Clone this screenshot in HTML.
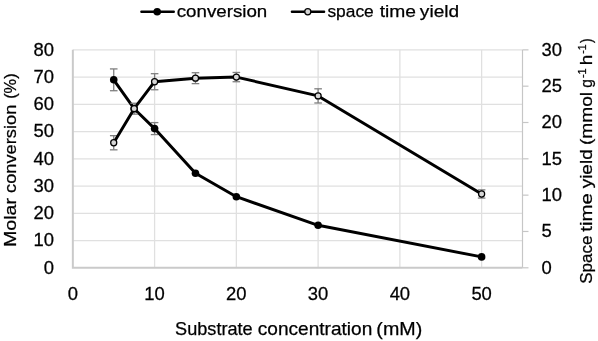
<!DOCTYPE html><html><head><meta charset="utf-8"><style>html,body{margin:0;padding:0;background:#fff;}svg{display:block;will-change:transform} text{stroke:#000;stroke-width:0.25px}</style></head><body>
<svg width="598" height="341" viewBox="0 0 598 341" style="font-family:'Liberation Sans',sans-serif">
<rect width="598" height="341" fill="#fff"/>
<line x1="72.85" y1="240.56" x2="522.50" y2="240.56" stroke="#e0e0e0" stroke-width="1.3"/>
<line x1="72.85" y1="213.31" x2="522.50" y2="213.31" stroke="#e0e0e0" stroke-width="1.3"/>
<line x1="72.85" y1="186.07" x2="522.50" y2="186.07" stroke="#e0e0e0" stroke-width="1.3"/>
<line x1="72.85" y1="158.83" x2="522.50" y2="158.83" stroke="#e0e0e0" stroke-width="1.3"/>
<line x1="72.85" y1="131.58" x2="522.50" y2="131.58" stroke="#e0e0e0" stroke-width="1.3"/>
<line x1="72.85" y1="104.34" x2="522.50" y2="104.34" stroke="#e0e0e0" stroke-width="1.3"/>
<line x1="72.85" y1="77.09" x2="522.50" y2="77.09" stroke="#e0e0e0" stroke-width="1.3"/>
<line x1="72.85" y1="49.85" x2="522.50" y2="49.85" stroke="#e0e0e0" stroke-width="1.3"/>
<line x1="154.60" y1="49.85" x2="154.60" y2="267.80" stroke="#e0e0e0" stroke-width="1.3"/>
<line x1="236.36" y1="49.85" x2="236.36" y2="267.80" stroke="#e0e0e0" stroke-width="1.3"/>
<line x1="318.11" y1="49.85" x2="318.11" y2="267.80" stroke="#e0e0e0" stroke-width="1.3"/>
<line x1="399.87" y1="49.85" x2="399.87" y2="267.80" stroke="#e0e0e0" stroke-width="1.3"/>
<line x1="481.62" y1="49.85" x2="481.62" y2="267.80" stroke="#e0e0e0" stroke-width="1.3"/>
<line x1="522.50" y1="49.85" x2="522.50" y2="267.80" stroke="#c6c6c6" stroke-width="1.2"/>
<line x1="522.50" y1="267.80" x2="528.50" y2="267.80" stroke="#c6c6c6" stroke-width="1.2"/>
<line x1="522.50" y1="231.48" x2="528.50" y2="231.48" stroke="#c6c6c6" stroke-width="1.2"/>
<line x1="522.50" y1="195.15" x2="528.50" y2="195.15" stroke="#c6c6c6" stroke-width="1.2"/>
<line x1="522.50" y1="158.82" x2="528.50" y2="158.82" stroke="#c6c6c6" stroke-width="1.2"/>
<line x1="522.50" y1="122.50" x2="528.50" y2="122.50" stroke="#c6c6c6" stroke-width="1.2"/>
<line x1="522.50" y1="86.18" x2="528.50" y2="86.18" stroke="#c6c6c6" stroke-width="1.2"/>
<line x1="522.50" y1="49.85" x2="528.50" y2="49.85" stroke="#c6c6c6" stroke-width="1.2"/>
<polyline points="72.85,49.85 72.85,267.80 522.50,267.80" fill="none" stroke="#cacaca" stroke-width="2"/>
<line x1="113.73" y1="68.92" x2="113.73" y2="90.72" stroke="#7f7f7f" stroke-width="1.3"/>
<line x1="109.93" y1="68.92" x2="117.53" y2="68.92" stroke="#7f7f7f" stroke-width="1.3"/>
<line x1="109.93" y1="90.72" x2="117.53" y2="90.72" stroke="#7f7f7f" stroke-width="1.3"/>
<line x1="154.60" y1="122.59" x2="154.60" y2="134.58" stroke="#7f7f7f" stroke-width="1.3"/>
<line x1="150.80" y1="122.59" x2="158.40" y2="122.59" stroke="#7f7f7f" stroke-width="1.3"/>
<line x1="150.80" y1="134.58" x2="158.40" y2="134.58" stroke="#7f7f7f" stroke-width="1.3"/>
<polyline points="113.73,79.82 134.17,108.70 154.60,128.58 195.48,173.26 236.36,196.69 318.11,225.30 481.62,256.90" fill="none" stroke="#000" stroke-width="2.95" stroke-linejoin="round"/>
<circle cx="113.73" cy="79.82" r="3.8" fill="#000"/>
<circle cx="134.17" cy="108.70" r="3.8" fill="#000"/>
<circle cx="154.60" cy="128.58" r="3.8" fill="#000"/>
<circle cx="195.48" cy="173.26" r="3.8" fill="#000"/>
<circle cx="236.36" cy="196.69" r="3.8" fill="#000"/>
<circle cx="318.11" cy="225.30" r="3.8" fill="#000"/>
<circle cx="481.62" cy="256.90" r="3.8" fill="#000"/>
<line x1="113.73" y1="135.67" x2="113.73" y2="149.83" stroke="#7f7f7f" stroke-width="1.3"/>
<line x1="109.93" y1="135.67" x2="117.53" y2="135.67" stroke="#7f7f7f" stroke-width="1.3"/>
<line x1="109.93" y1="149.83" x2="117.53" y2="149.83" stroke="#7f7f7f" stroke-width="1.3"/>
<line x1="134.17" y1="103.25" x2="134.17" y2="114.15" stroke="#7f7f7f" stroke-width="1.3"/>
<line x1="130.37" y1="103.25" x2="137.97" y2="103.25" stroke="#7f7f7f" stroke-width="1.3"/>
<line x1="130.37" y1="114.15" x2="137.97" y2="114.15" stroke="#7f7f7f" stroke-width="1.3"/>
<line x1="154.60" y1="73.69" x2="154.60" y2="89.76" stroke="#7f7f7f" stroke-width="1.3"/>
<line x1="150.80" y1="73.69" x2="158.40" y2="73.69" stroke="#7f7f7f" stroke-width="1.3"/>
<line x1="150.80" y1="89.76" x2="158.40" y2="89.76" stroke="#7f7f7f" stroke-width="1.3"/>
<line x1="195.48" y1="72.73" x2="195.48" y2="83.63" stroke="#7f7f7f" stroke-width="1.3"/>
<line x1="191.68" y1="72.73" x2="199.28" y2="72.73" stroke="#7f7f7f" stroke-width="1.3"/>
<line x1="191.68" y1="83.63" x2="199.28" y2="83.63" stroke="#7f7f7f" stroke-width="1.3"/>
<line x1="236.36" y1="72.46" x2="236.36" y2="81.73" stroke="#7f7f7f" stroke-width="1.3"/>
<line x1="232.56" y1="72.46" x2="240.16" y2="72.46" stroke="#7f7f7f" stroke-width="1.3"/>
<line x1="232.56" y1="81.73" x2="240.16" y2="81.73" stroke="#7f7f7f" stroke-width="1.3"/>
<line x1="318.11" y1="88.81" x2="318.11" y2="102.98" stroke="#7f7f7f" stroke-width="1.3"/>
<line x1="314.31" y1="88.81" x2="321.91" y2="88.81" stroke="#7f7f7f" stroke-width="1.3"/>
<line x1="314.31" y1="102.98" x2="321.91" y2="102.98" stroke="#7f7f7f" stroke-width="1.3"/>
<line x1="481.62" y1="189.88" x2="481.62" y2="198.06" stroke="#7f7f7f" stroke-width="1.3"/>
<line x1="477.82" y1="189.88" x2="485.42" y2="189.88" stroke="#7f7f7f" stroke-width="1.3"/>
<line x1="477.82" y1="198.06" x2="485.42" y2="198.06" stroke="#7f7f7f" stroke-width="1.3"/>
<polyline points="113.73,142.75 134.17,108.70 154.60,81.73 195.48,78.18 236.36,77.09 318.11,95.89 481.62,193.97" fill="none" stroke="#000" stroke-width="2.95" stroke-linejoin="round"/>
<circle cx="113.73" cy="142.75" r="3.05" fill="#d6d6d6" stroke="#000" stroke-width="1.25"/>
<circle cx="134.17" cy="108.70" r="3.05" fill="#d6d6d6" stroke="#000" stroke-width="1.25"/>
<circle cx="154.60" cy="81.73" r="3.05" fill="#d6d6d6" stroke="#000" stroke-width="1.25"/>
<circle cx="195.48" cy="78.18" r="3.05" fill="#d6d6d6" stroke="#000" stroke-width="1.25"/>
<circle cx="236.36" cy="77.09" r="3.05" fill="#d6d6d6" stroke="#000" stroke-width="1.25"/>
<circle cx="318.11" cy="95.89" r="3.05" fill="#d6d6d6" stroke="#000" stroke-width="1.25"/>
<circle cx="481.62" cy="193.97" r="3.05" fill="#d6d6d6" stroke="#000" stroke-width="1.25"/>
<text transform="translate(54,273.50) scale(1.03,1)" font-size="17.9" text-anchor="end" fill="#000">0</text>
<text transform="translate(54,246.26) scale(1.03,1)" font-size="17.9" text-anchor="end" fill="#000">10</text>
<text transform="translate(54,219.01) scale(1.03,1)" font-size="17.9" text-anchor="end" fill="#000">20</text>
<text transform="translate(54,191.77) scale(1.03,1)" font-size="17.9" text-anchor="end" fill="#000">30</text>
<text transform="translate(54,164.53) scale(1.03,1)" font-size="17.9" text-anchor="end" fill="#000">40</text>
<text transform="translate(54,137.28) scale(1.03,1)" font-size="17.9" text-anchor="end" fill="#000">50</text>
<text transform="translate(54,110.04) scale(1.03,1)" font-size="17.9" text-anchor="end" fill="#000">60</text>
<text transform="translate(54,82.79) scale(1.03,1)" font-size="17.9" text-anchor="end" fill="#000">70</text>
<text transform="translate(54,55.55) scale(1.03,1)" font-size="17.9" text-anchor="end" fill="#000">80</text>
<text transform="translate(541.5,273.50) scale(1.03,1)" font-size="17.9" text-anchor="start" fill="#000">0</text>
<text transform="translate(541.5,237.18) scale(1.03,1)" font-size="17.9" text-anchor="start" fill="#000">5</text>
<text transform="translate(541.5,200.85) scale(1.03,1)" font-size="17.9" text-anchor="start" fill="#000">10</text>
<text transform="translate(541.5,164.52) scale(1.03,1)" font-size="17.9" text-anchor="start" fill="#000">15</text>
<text transform="translate(541.5,128.20) scale(1.03,1)" font-size="17.9" text-anchor="start" fill="#000">20</text>
<text transform="translate(541.5,91.88) scale(1.03,1)" font-size="17.9" text-anchor="start" fill="#000">25</text>
<text transform="translate(541.5,55.55) scale(1.03,1)" font-size="17.9" text-anchor="start" fill="#000">30</text>
<text transform="translate(72.85,299.9) scale(1.03,1)" font-size="17.9" text-anchor="middle" fill="#000">0</text>
<text transform="translate(154.60,299.9) scale(1.03,1)" font-size="17.9" text-anchor="middle" fill="#000">10</text>
<text transform="translate(236.36,299.9) scale(1.03,1)" font-size="17.9" text-anchor="middle" fill="#000">20</text>
<text transform="translate(318.11,299.9) scale(1.03,1)" font-size="17.9" text-anchor="middle" fill="#000">30</text>
<text transform="translate(399.87,299.9) scale(1.03,1)" font-size="17.9" text-anchor="middle" fill="#000">40</text>
<text transform="translate(481.62,299.9) scale(1.03,1)" font-size="17.9" text-anchor="middle" fill="#000">50</text>
<text x="175.08" y="335.00" font-size="17.8" textLength="77.59" lengthAdjust="spacingAndGlyphs" fill="#000">Substrate</text>
<text x="257.79" y="335.00" font-size="17.8" textLength="114.53" lengthAdjust="spacingAndGlyphs" fill="#000">concentration</text>
<text x="376.37" y="335.00" font-size="17.8" textLength="45.90" lengthAdjust="spacingAndGlyphs" fill="#000">(mM)</text>
<text transform="translate(16.00,247.02) rotate(-90)" x="0" y="0" font-size="17.3" textLength="49.02" lengthAdjust="spacingAndGlyphs" fill="#000">Molar</text>
<text transform="translate(16.00,192.98) rotate(-90)" x="0" y="0" font-size="17.3" textLength="88.34" lengthAdjust="spacingAndGlyphs" fill="#000">conversion</text>
<text transform="translate(16.00,98.82) rotate(-90)" x="0" y="0" font-size="17.3" textLength="25.40" lengthAdjust="spacingAndGlyphs" fill="#000">(%)</text>
<text transform="translate(591.80,283.76) rotate(-90)" x="0" y="0" font-size="17.4" textLength="48.09" lengthAdjust="spacingAndGlyphs" fill="#000">Space</text>
<text transform="translate(591.80,231.71) rotate(-90)" x="0" y="0" font-size="17.4" textLength="38.61" lengthAdjust="spacingAndGlyphs" fill="#000">time</text>
<text transform="translate(591.80,188.35) rotate(-90)" x="0" y="0" font-size="17.4" textLength="39.07" lengthAdjust="spacingAndGlyphs" fill="#000">yield</text>
<text transform="translate(591.80,144.99) rotate(-90)" x="0" y="0" font-size="17.4" textLength="52.98" lengthAdjust="spacingAndGlyphs" fill="#000">(mmol</text>
<text transform="translate(591.80,87.86) rotate(-90)" x="0" y="0" font-size="17.4" textLength="8.65" lengthAdjust="spacingAndGlyphs" fill="#000">g</text>
<text transform="translate(591.80,65.33) rotate(-90)" x="0" y="0" font-size="17.4" textLength="10.53" lengthAdjust="spacingAndGlyphs" fill="#000">h</text>
<text transform="translate(591.80,43.00) rotate(-90)" x="0" y="0" font-size="17.4" textLength="4.52" lengthAdjust="spacingAndGlyphs" fill="#000">)</text>
<text transform="translate(586.10,78.10) rotate(-90)" x="0" y="0" font-size="11.2" textLength="9.84" lengthAdjust="spacingAndGlyphs" fill="#000">-1</text>
<text transform="translate(586.10,53.68) rotate(-90)" x="0" y="0" font-size="11.2" textLength="9.40" lengthAdjust="spacingAndGlyphs" fill="#000">-1</text>
<line x1="141.4" y1="11.7" x2="173.8" y2="11.7" stroke="#000" stroke-width="2.35" stroke-linecap="round"/>
<circle cx="157.2" cy="11.7" r="3.8" fill="#000"/>
<text x="176.70" y="17.30" font-size="17.2" textLength="90.59" lengthAdjust="spacingAndGlyphs" fill="#000">conversion</text>
<line x1="291.9" y1="11.7" x2="324.1" y2="11.7" stroke="#000" stroke-width="2.35" stroke-linecap="round"/>
<circle cx="307.8" cy="11.7" r="3.05" fill="#d6d6d6" stroke="#000" stroke-width="1.25"/>
<text x="327.42" y="17.30" font-size="17.2" textLength="46.33" lengthAdjust="spacingAndGlyphs" fill="#000">space</text>
<text x="379.71" y="17.30" font-size="17.2" textLength="36.34" lengthAdjust="spacingAndGlyphs" fill="#000">time</text>
<text x="419.85" y="17.30" font-size="17.2" textLength="39.27" lengthAdjust="spacingAndGlyphs" fill="#000">yield</text>
</svg></body></html>
